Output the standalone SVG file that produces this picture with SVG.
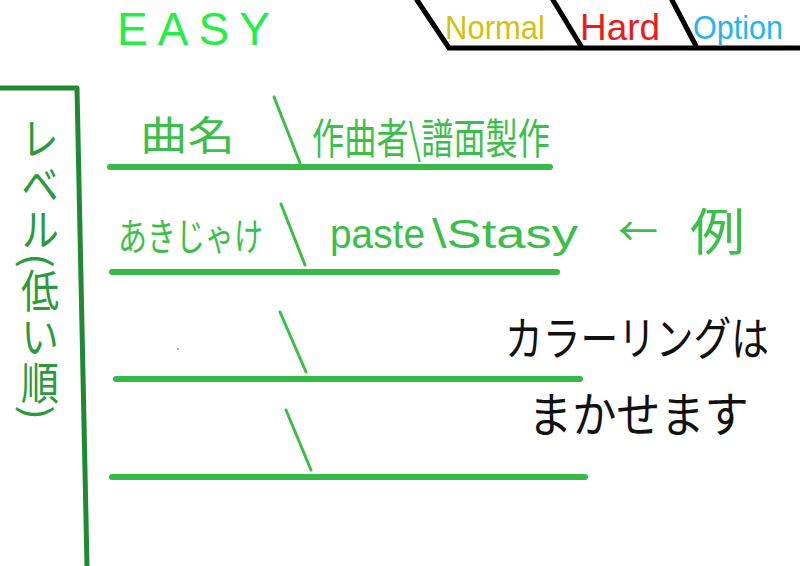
<svg xmlns="http://www.w3.org/2000/svg" width="800" height="566" viewBox="0 0 800 566">
<style>
.g{fill:#3cbf4a;font-family:"Noto Sans CJK JP","Liberation Sans",sans-serif}
.lat{fill:#3cbf4a;font-family:"Liberation Sans",sans-serif}
.ln{stroke:#36bb47;stroke-width:6;stroke-linecap:round;fill:none}
.sl{stroke:#3cbf4a;stroke-width:3;stroke-linecap:round;fill:none}
.tab{stroke:#000;stroke-width:5;stroke-linecap:round;fill:none}
.k{fill:#111;font-family:"Noto Sans CJK JP",sans-serif}
</style>
<rect width="800" height="566" fill="#fff"/>
<g id="title"><text x="117" y="45" font-family="Liberation Sans,sans-serif" font-size="46" fill="#22ee44" textLength="153" lengthAdjust="spacing">EASY</text></g>
<g id="tabs">
<path class="tab" d="M417,0 L449,48 L800,48 M553,0 L581,46 M672,0 L696,46"/>
<text x="445" y="39" font-family="Liberation Sans,sans-serif" font-size="34" fill="#d4c012" textLength="100" lengthAdjust="spacingAndGlyphs">Normal</text>
<text x="580" y="40" font-family="Liberation Sans,sans-serif" font-size="36" fill="#f01818" textLength="80" lengthAdjust="spacingAndGlyphs">Hard</text>
<text x="693" y="39" font-family="Liberation Sans,sans-serif" font-size="34" fill="#25b5ee" textLength="90" lengthAdjust="spacingAndGlyphs">Option</text>
</g>
<g id="level-panel">
<path d="M0,88 L77,88 L87,566" stroke="#1f8a32" stroke-width="5" fill="none" stroke-linejoin="round"/>
<text transform="translate(40,116) scale(1,1.2)" class="g" style="fill:#2a9a3a;writing-mode:vertical-rl" font-size="38">レベル(低い順)</text>
</g>
<g id="connectors">
<line class="ln" x1="110" y1="167" x2="550" y2="167"/>
<line class="ln" x1="112" y1="272" x2="557" y2="272"/>
<line class="ln" x1="116" y1="379" x2="580" y2="379"/>
<line class="ln" x1="112" y1="477" x2="585" y2="477"/>
<line class="sl" x1="274" y1="97" x2="300" y2="163"/>
<line class="sl" x1="281" y1="204" x2="305" y2="265"/>
<line class="sl" x1="280" y1="312" x2="306" y2="372"/>
<line class="sl" x1="286" y1="410" x2="311" y2="470"/>
</g>
<g id="row1">
<text class="g" x="140" y="150" font-size="40" textLength="95" lengthAdjust="spacingAndGlyphs">曲名</text>
<text class="g" x="312" y="154" font-size="42" textLength="238" lengthAdjust="spacingAndGlyphs">作曲者\譜面製作</text>
</g>
<g id="row2">
<text class="g" x="118" y="250" font-size="38" textLength="145" lengthAdjust="spacingAndGlyphs">あきじゃけ</text>
<text class="lat" x="330" y="248" font-size="40" textLength="95" lengthAdjust="spacingAndGlyphs">paste</text>
<text class="lat" x="432" y="248" font-size="40" textLength="146" lengthAdjust="spacingAndGlyphs">\Stasy</text>
<text class="g" x="618" y="246" font-size="40">←</text>
<text class="g" x="690" y="250" font-size="50" textLength="55" lengthAdjust="spacingAndGlyphs">例</text>
</g>
<g id="note">
<text class="k" transform="translate(505,355) scale(0.82,1)" font-size="46">カラーリングは</text>
<text class="k" transform="translate(528,432) scale(0.92,1)" font-size="48">まかせます</text>
</g>
<circle cx="178" cy="349" r="1" fill="#999"/>
</svg>
